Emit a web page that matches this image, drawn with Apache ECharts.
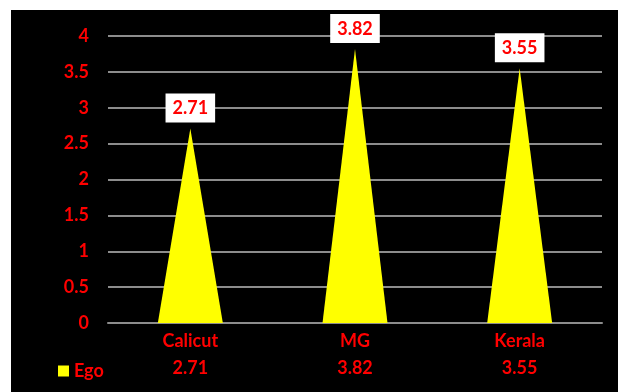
<!DOCTYPE html>
<html><head><meta charset="utf-8">
<script src="https://cdn.jsdelivr.net/npm/echarts@6/dist/echarts.min.js"></script>
<style>
html,body{margin:0;padding:0;background:#fff;width:618px;height:392px;overflow:hidden}
#c{position:absolute;left:11px;top:10px;width:607px;height:382px;background:#000}
</style></head>
<body><div id="c"></div>
<script>
const categories = ['Calicut', 'MG', 'Kerala'];
const seriesName = 'Ego';
const egoValues = [2.71, 3.82, 3.55];
const yTicks = [0, 0.5, 1, 1.5, 2, 2.5, 3, 3.5, 4];

const chart = echarts.init(document.getElementById('c'), null, {renderer: 'canvas'});
const FONT = 'Lato';
const FS = 18;
chart.setOption({
  backgroundColor: '#000',
  animation: false,
  textStyle: {fontFamily: FONT},
  grid: {left: 97, right: 16, top: 26, bottom: 69},
  legend: {
    data: [seriesName],
    left: 42, top: 347,
    itemWidth: 11, itemHeight: 11, itemGap: 5,
    icon: 'rect',
    textStyle: {color: '#ff0000', fontWeight: 'bold', fontSize: FS, fontFamily: FONT}
  },
  xAxis: {
    type: 'category',
    data: categories,
    axisLine: {lineStyle: {color: '#8c8c8c', width: 2}},
    axisTick: {show: false},
    axisLabel: {
      margin: 5,
      formatter: function (v, i) { return '{c|' + v + '}\n{v|' + egoValues[i].toFixed(2) + '}'; },
      rich: {
        c: {color: '#ff0000', fontWeight: 'bold', fontSize: FS, lineHeight: 27, fontFamily: FONT},
        v: {color: '#ff0000', fontWeight: 'bold', fontSize: FS, lineHeight: 27, fontFamily: FONT}
      }
    }
  },
  yAxis: {
    type: 'value',
    min: yTicks[0], max: yTicks[yTicks.length - 1], interval: 0.5,
    axisLine: {show: false},
    axisTick: {show: false},
    splitLine: {lineStyle: {color: '#8c8c8c', width: 2}},
    axisLabel: {color: '#ff0000', fontWeight: 'bold', fontSize: FS, margin: 19, fontFamily: FONT}
  },
  series: [{
    name: seriesName,
    type: 'pictorialBar',
    data: egoValues,
    symbol: 'path://M0,1 L0.5,0 L1,1 Z',
    symbolSize: [65, '100%'],
    symbolRepeat: false,
    itemStyle: {color: '#ffff00'},
    label: {
      show: true, position: 'top', distance: 6,
      backgroundColor: '#fff', padding: [6, 7, 5, 7],
      color: '#ff0000', fontWeight: 'bold', fontSize: FS, fontFamily: FONT,
      formatter: function (p) { return p.value.toFixed(2); }
    }
  }]
});
</script></body></html>
